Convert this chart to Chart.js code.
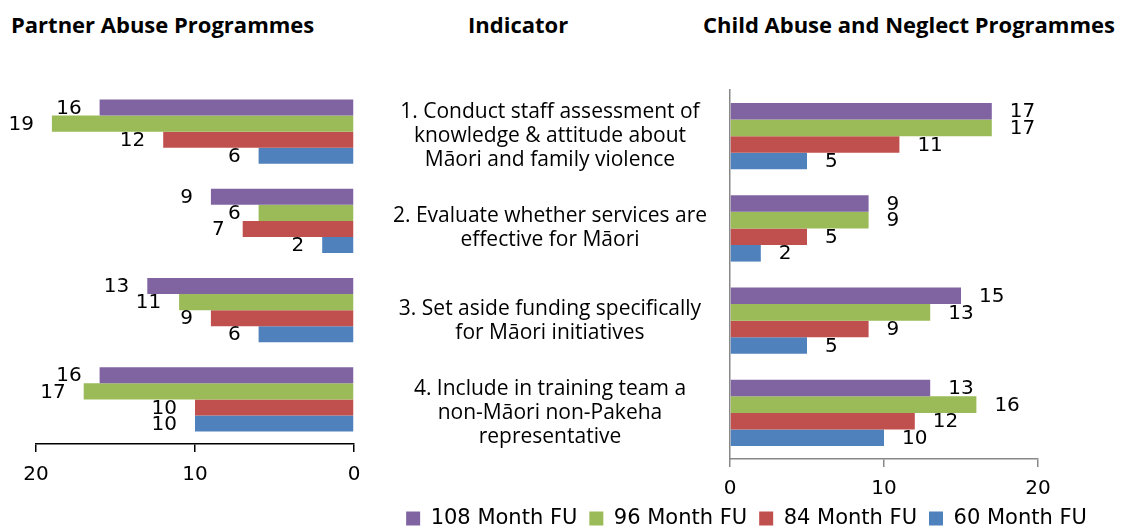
<!DOCTYPE html>
<html>
<head>
<meta charset="utf-8">
<script src="https://cdn.jsdelivr.net/npm/chart.js@4.4.1/dist/chart.umd.min.js"></script>
<style>
 body{margin:0;background:#fff;width:1123px;height:529px;position:relative;overflow:hidden;}
 .head{position:absolute;top:9px;font-family:"Open Sans",sans-serif;font-weight:700;font-size:22px;color:#000;letter-spacing:0;white-space:nowrap;}
 canvas{position:absolute;}
</style>
</head>
<body>
<div class="head" style="left:11px">Partner Abuse Programmes</div>
<div class="head" style="left:468px">Indicator</div>
<div class="head" style="left:703px">Child Abuse and Neglect Programmes</div>
<canvas id="leftChart" width="380" height="420" style="left:0;top:80px"></canvas>
<canvas id="rightChart" width="783" height="459" style="left:355px;top:80px"></canvas>
<script>
const indicators=[
 ["1. Conduct staff assessment of","knowledge & attitude about","Māori and family violence"],
 ["2. Evaluate whether services are","effective for Māori"],
 ["3. Set aside funding specifically","for Māori initiatives"],
 ["4. Include in training team a","non-Māori non-Pakeha","representative"]
];
const seriesNames=["108 Month FU","96 Month FU","84 Month FU","60 Month FU"];
const colours=["#8064A2","#9BBB59","#C0504D","#4F81BD"];

// Partner Abuse Programmes
const partner108=[16,9,13,16];
const partner96=[19,6,11,17];
const partner84=[12,7,9,10];
const partner60=[6,2,6,10];

// Child Abuse and Neglect Programmes
const child108=[17,9,15,13];
const child96=[17,9,13,16];
const child84=[11,5,9,12];
const child60=[5,2,5,10];

const numFont='"DejaVu Sans", sans-serif';

const valueLabels={
 id:"valueLabels",
 afterDatasetsDraw(chart,args,opts){
   const ctx=chart.ctx;
   ctx.save();
   ctx.font="20px "+numFont;
   ctx.fillStyle="#000";
   ctx.textBaseline="middle";
   chart.data.datasets.forEach((ds,i)=>{
     chart.getDatasetMeta(i).data.forEach((bar,j)=>{
       if(opts.side==="left"){
         ctx.textAlign="right";
         ctx.fillText(ds.data[j],bar.x-opts.gap,bar.y+1);
       }else{
         ctx.textAlign="left";
         ctx.fillText(ds.data[j],bar.x+opts.gap,bar.y+1);
       }
     });
   });
   ctx.restore();
 }
};

function makeSets(arrs){
 return arrs.map((d,i)=>({
   label:seriesNames[i],
   data:d,
   backgroundColor:colours[i],
   categoryPercentage:0.72,
   barPercentage:1
 }));
}

new Chart(document.getElementById("leftChart"),{
 type:"bar",
 data:{labels:indicators.map((l,i)=>"I"+(i+1)),datasets:makeSets([partner108,partner96,partner84,partner60])},
 plugins:[valueLabels],
 options:{
   responsive:false,animation:false,indexAxis:"y",
   layout:{padding:{left:36,right:26,top:7,bottom:4}},
   plugins:{legend:{display:false},tooltip:{enabled:false},valueLabels:{side:"left",gap:18}},
   scales:{
     x:{reverse:true,min:0,max:20,
        afterFit(axis){axis.height-=2;},
        ticks:{stepSize:10,color:"#000",padding:11,font:{family:numFont,size:20}},
        grid:{drawOnChartArea:false,tickLength:8,color:"#000",lineWidth:1.5},
        border:{color:"#000",width:1.5}},
     y:{display:false}
   }
 }
});

new Chart(document.getElementById("rightChart"),{
 type:"bar",
 data:{labels:indicators,datasets:makeSets([child108,child96,child84,child60])},
 plugins:[valueLabels],
 options:{
   responsive:false,animation:false,indexAxis:"y",
   layout:{padding:{left:0,right:0,top:10,bottom:0}},
   plugins:{
     legend:{position:"bottom",
       labels:{boxWidth:14,boxHeight:14,padding:12,color:"#000",font:{family:numFont,size:21}}},
     tooltip:{enabled:false},
     valueLabels:{side:"right",gap:18}
   },
   scales:{
     x:{min:0,max:20,
        afterFit(axis){axis.height-=15;},
        ticks:{stepSize:10,color:"#000",padding:10,font:{family:numFont,size:20}},
        grid:{drawOnChartArea:false,tickLength:8,color:"#888",lineWidth:1.5},
        border:{color:"#888",width:1.5}},
     y:{
       afterFit(axis){axis.width=375;axis.paddingTop=0;axis.paddingBottom=0;},
       ticks:{autoSkip:false,crossAlign:"center",padding:23,color:"#000",font:{family:'"Open Sans", sans-serif',size:21,lineHeight:1.143}},
       grid:{display:false,drawTicks:false},
       border:{color:"#888",width:1.5}
     },
     spacer:{
       type:"category",position:"right",
       afterFit(axis){axis.width=100;axis.paddingTop=0;axis.paddingBottom=0;},
       ticks:{display:false},
       grid:{display:false,drawTicks:false},
       border:{display:false}
     }
   }
 }
});
</script>
</body>
</html>
